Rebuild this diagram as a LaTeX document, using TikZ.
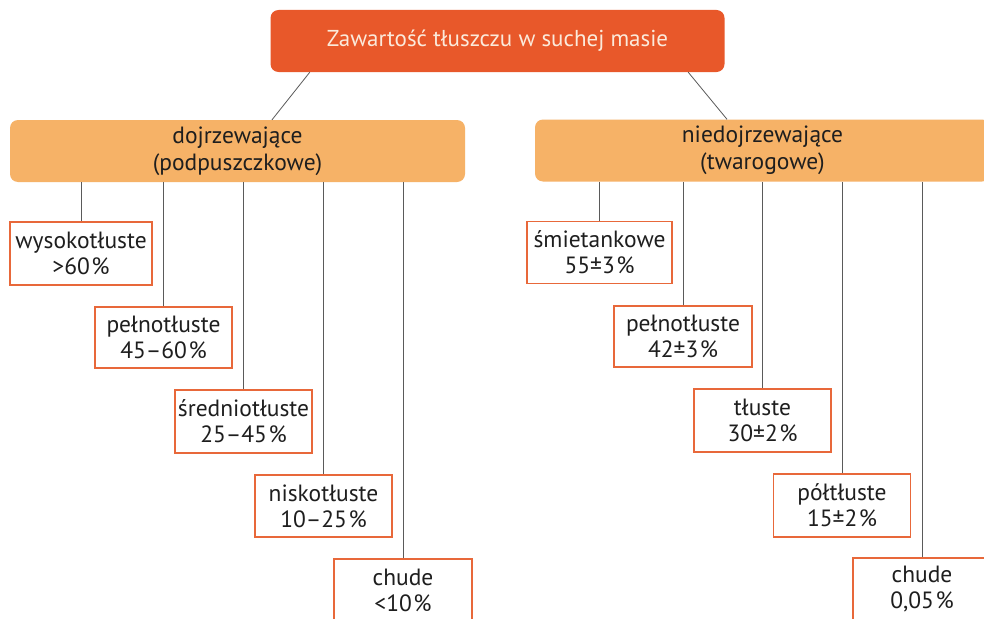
\documentclass[tikz,border=0pt]{standalone}
\usepackage{fontspec}
\setmainfont{PT Sans}
\usetikzlibrary{calc}
\definecolor{topc}{HTML}{E8582A}
\definecolor{midc}{HTML}{F6B267}
\definecolor{leafb}{HTML}{E8683A}
\definecolor{linec}{HTML}{5A5A5A}
\definecolor{toptext}{HTML}{FBEADB}
\definecolor{txt}{HTML}{1E1E1E}
\newcommand{\pc}{\kern1.5pt\%}
\tikzset{
  topbox/.style={fill=topc, rounded corners=8pt, minimum width=454pt, minimum height=62pt,
    text=toptext, font=\fontsize{23}{26}\selectfont, inner sep=0pt, align=center},
  midbox/.style={fill=midc, rounded corners=8pt, minimum width=455pt, minimum height=62pt,
    text=txt, font=\fontsize{23.5}{27}\selectfont, inner sep=0pt, align=center},
  leaf/.style={draw=leafb, line width=1.6pt, fill=white, minimum width=137pt, minimum height=62pt,
    text=txt, font=\fontsize{23.5}{26}\selectfont, inner sep=0pt, align=center},
  conn/.style={draw=linec, line width=0.8pt}
}
\begin{document}
\begin{tikzpicture}[x=1pt,y=-1pt]
\useasboundingbox[fill=white] (0,0) rectangle (984,618);
\node[topbox] (top) at (497.5,41) {Zawartość tłuszczu w suchej masie};
\node[midbox] (midL) at (237.5,151) {dojrzewające\\(podpuszczkowe)};
\node[midbox] (midR) at (762.5,150.5) {niedojrzewające\\(twarogowe)};
\draw[conn] ($(top.south west)+(39.5,0)$) -- ($(midL.north)+(34.5,0)$);
\draw[conn] ($(top.south east)+(-36.5,0)$) -- ($(midR.north)+(-35.5,0)$);

\node[leaf, minimum width=142pt, minimum height=63pt] (l1) at (81,253.5) {wysokotłuste\\>60\pc};
\node[leaf, minimum height=61pt] (l2) at (163.5,337.5) {pełnotłuste\\45–60\pc};
\node[leaf, minimum height=63pt] (l3) at (243.5,421.5) {średniotłuste\\25–45\pc};
\node[leaf] (l4) at (323.5,506) {niskotłuste\\10–25\pc};
\node[leaf, minimum width=138pt] (l5) at (403,590) {chude\\<10\pc};

\node[leaf, minimum width=145pt] (r1) at (599.5,252.5) {śmietankowe\\55±3\pc};
\node[leaf, minimum width=138pt, minimum height=61pt] (r2) at (683,336.5) {pełnotłuste\\42±3\pc};
\node[leaf, minimum height=63pt] (r3) at (762.5,420.5) {tłuste\\30±2\pc};
\node[leaf, minimum height=63pt] (r4) at (842,505.5) {półtłuste\\15±2\pc};
\node[leaf, minimum width=138pt] (r5) at (922,589) {chude\\0,05\pc};

\foreach \a/\p in {l1/midL,l2/midL,l3/midL,l4/midL,l5/midL,r1/midR,r2/midR,r3/midR,r4/midR,r5/midR}
  \draw[conn] (\a.north) -- (\a.north |- \p.south);
\end{tikzpicture}
\end{document}
